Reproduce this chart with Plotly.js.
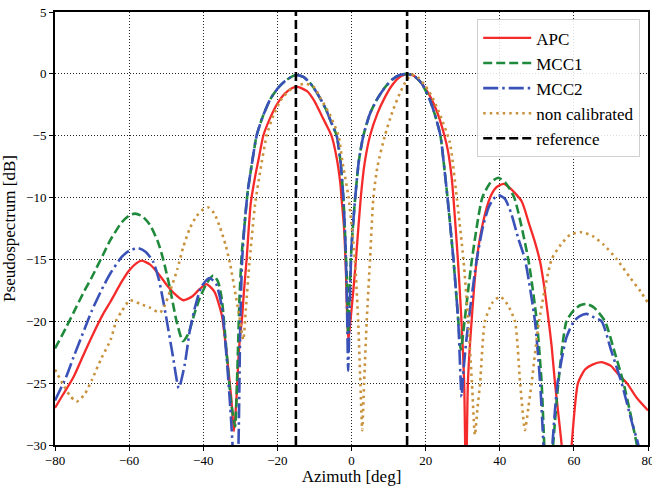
<!DOCTYPE html>
<html>
<head>
<meta charset="utf-8">
<script src="https://cdn.plot.ly/plotly-3.0.1.min.js"></script>
<style>html,body{margin:0;padding:0;background:#fff;}#chart{width:652px;height:486px;}</style>
</head>
<body>
<div id="chart"></div>
<script>
// ---- Data ----
const apcAz = [-80,-78,-75,-72,-70,-67,-65,-62,-60,-58,-56.6,-54.4,-52,-50,-48,-45.4,-43,-41,-39.1,-37,-35,-33.7,-32.5,-31.7,-31,-30.5,-30,-29.6,-29,-28.3,-27.2,-26,-25,-23.8,-22,-20,-18,-16,-14.5,-12,-10,-8,-6,-5.4,-4,-3,-2.7,-2,-1.5,-0.9,-0.3,0.5,1.2,2.5,3.5,5,7,9,11,13,15.3,17,19,21,23,25,26,27,27.5,28.7,29.5,30.4,30.9,31.4,32.4,33.8,35.5,37.4,39,41,43,45.9,48,49.5,50.9,52,53,54,54.9,56,56.7,58,59.4,61.1,63,65,67.5,70,72,74.3,77,80];
const apc   = [-27.0,-26.0,-24.5,-22.5,-21.2,-19.4,-18.4,-16.8,-15.9,-15.3,-15.1,-15.4,-16.2,-17.0,-17.7,-18.3,-18.0,-17.4,-17.0,-17.6,-19.5,-22.6,-26.0,-28.9,-26.0,-23.0,-21.0,-20.0,-17.5,-15.0,-10.5,-8.3,-6.8,-5.0,-3.6,-2.4,-1.6,-1.15,-1.05,-1.4,-2.2,-3.4,-4.6,-5.0,-6.8,-8.9,-10.0,-12.5,-16.0,-21.6,-20.0,-17.5,-15.0,-10.0,-7.3,-5.0,-3.2,-1.9,-0.9,-0.25,0,-0.2,-0.8,-1.7,-3.0,-4.9,-6.2,-8.3,-10.0,-15.0,-19.0,-25.0,-34.0,-25.0,-20.0,-15.0,-12.0,-10.0,-9.2,-8.9,-9.3,-10.3,-12.2,-13.6,-15.2,-17.2,-19.5,-22.0,-25.0,-28.0,-30.0,-36.0,-30.0,-25.0,-23.9,-23.5,-23.3,-23.6,-24.3,-25.0,-26.2,-27.2];

const mcc1Az = [-80,-77,-75,-72,-70,-67,-65,-62,-60,-58.4,-56.5,-54.4,-52.2,-50.8,-49,-47.2,-45.5,-44,-42.5,-40.9,-39,-37.3,-36,-35,-33.7,-32.5,-31.4,-30.8,-30.2,-29.6,-28.8,-28,-27,-25.6,-24,-22,-20,-18,-16,-14.8,-13,-11,-9,-7,-5.5,-4,-3,-2.2,-1.6,-1.2,-0.9,-0.5,0,1,2,3.2,5,7,9,11,13,15,17,19,21,22.5,24,25,25.9,27.5,28.7,29.5,30.5,32.5,35.3,37.5,39.6,41.5,43.9,47.7,50,51.3,52,53,54.4,55.8,58,60,61.7,63.4,65.5,68.4,71,73.4,75.5,77,78.5,80];
const mcc1  = [-22.2,-20.5,-19.3,-17.5,-16.4,-14.6,-13.4,-12.0,-11.45,-11.3,-11.5,-12.2,-13.6,-15.0,-17.3,-20.0,-21.6,-21.0,-19.5,-18.1,-16.9,-16.3,-16.8,-18.2,-22.5,-26.5,-28.5,-24.0,-18.0,-14.5,-12.0,-9.5,-7.5,-5.0,-3.5,-2.1,-1.2,-0.6,-0.2,-0.1,-0.25,-0.8,-1.7,-2.8,-3.9,-5.0,-7.0,-10.0,-14.0,-17.0,-21.0,-17.5,-14.0,-10.0,-7.0,-5.0,-3.2,-2.0,-1.1,-0.45,-0.1,0,-0.2,-0.8,-2.0,-3.3,-5.0,-7.5,-10.0,-15.0,-19.5,-22.3,-20.0,-15.0,-10.0,-8.8,-8.4,-8.8,-10.0,-15.0,-20.0,-25.0,-30.0,-36.0,-30.0,-25.0,-20.0,-19.1,-18.7,-18.6,-18.9,-20.0,-22.5,-25.0,-27.8,-30.0,-33.0,-36.0];

const mcc2Az = [-80,-77,-75,-72,-70,-67,-65,-62,-60,-57.5,-55.5,-53.5,-52,-50.1,-48.2,-46.6,-45,-43.6,-42,-40.5,-38.3,-36.5,-35,-33.7,-32.7,-32.1,-31.3,-30.5,-30,-29.5,-28.8,-28,-27,-25.6,-24,-22,-20,-18,-16,-14.8,-13,-11,-9,-7,-5.5,-4,-3,-2.2,-1.6,-1.2,-0.9,-0.5,0,1,2,3.2,5,7,9,11,13,15,17,19,21,22.5,24,25,25.9,27.5,28.8,29.7,30.2,31,32,33.8,35.5,37,38.3,39.6,41.4,43,45,46.8,49.5,50.9,51.8,53,54.2,55.6,58,60,61.5,63.4,65.5,67.5,70,72.9,75.5,77.4,79,80];
const mcc2  = [-26.4,-24.5,-22.9,-20.6,-19.1,-17.2,-16.1,-14.8,-14.3,-14.1,-14.4,-15.2,-16.6,-19.5,-22.8,-25.4,-23.5,-20.7,-18.6,-17.2,-16.5,-17.0,-18.8,-22.9,-27.0,-30.0,-36.0,-30.0,-20.0,-15.0,-12.0,-9.5,-7.5,-5.0,-3.5,-2.1,-1.2,-0.6,-0.2,-0.1,-0.25,-0.8,-1.7,-2.8,-3.9,-5.0,-7.0,-10.0,-14.0,-19.0,-24.0,-19.0,-14.0,-10.0,-7.0,-5.0,-3.2,-2.0,-1.1,-0.45,-0.1,0,-0.2,-0.8,-2.0,-3.3,-5.0,-7.5,-10.0,-15.0,-20.0,-26.1,-24.0,-21.5,-19.0,-15.0,-12.3,-10.8,-10.1,-9.8,-10.1,-11.2,-13.3,-15.0,-20.0,-25.0,-30.0,-36.0,-30.0,-25.0,-21.3,-20.0,-19.6,-19.4,-19.7,-20.0,-22.3,-25.0,-28.0,-30.0,-33.0,-35.0];

const nonCalAz = [-80,-78,-76,-74.2,-72,-70,-67.5,-65,-63.4,-62,-59.8,-57,-54.4,-51.7,-50.5,-49,-47,-45.4,-43.5,-41.8,-40,-38.6,-37,-35.5,-34,-32.8,-31.3,-30.1,-29.2,-28.5,-27.6,-26,-24.7,-22.9,-21,-19,-17,-15,-12.5,-10,-8.5,-6,-3.5,-2.5,-0.8,0.9,1.8,2.4,2.9,3.4,4.1,5,5.9,7,9,11,13,14.5,16.2,18,20,22,24,26.5,28.4,30.2,31.5,32.5,33.3,34,34.7,36,38,40.1,42,44.1,45.5,46.8,47.7,48.6,50.6,54,56.5,59,62.1,65,68,71.6,75,78,80];
const nonCal   = [-23.9,-25.0,-26.0,-26.5,-25.9,-24.7,-23.0,-21.5,-19.9,-19.2,-18.3,-18.6,-18.9,-19.3,-18.8,-17.6,-15.8,-14.0,-12.4,-11.5,-10.95,-10.8,-11.3,-12.4,-13.8,-15.3,-17.8,-19.9,-21.5,-19.0,-15.5,-10.5,-8.0,-5.0,-3.3,-2.1,-1.4,-1.0,-0.8,-1.1,-1.9,-3.2,-5.0,-7.0,-10.0,-15.0,-20.0,-25.0,-28.8,-25.0,-20.0,-15.0,-10.0,-7.5,-5.0,-3.1,-1.6,-0.7,-0.05,-0.3,-1.0,-2.0,-3.4,-5.5,-10.0,-15.0,-20.0,-25.0,-29.2,-27.0,-25.0,-20.0,-18.5,-18.0,-18.6,-20.0,-25.0,-28.8,-27.0,-25.0,-20.0,-15.0,-13.8,-13.0,-12.8,-13.1,-13.8,-15.0,-16.4,-17.6,-18.5];

const refAz = [-15, 15];
const yRange = [-30, 5];
const xRange = [-80, 80];
const seriesNames = ['APC', 'MCC1', 'MCC2', 'non calibrated', 'reference'];

// reference lines built from refAz and yRange
const refX = [], refY = [];
refAz.forEach((a, i) => { if (i) { refX.push(null); refY.push(null); } refX.push(a, a); refY.push(yRange[0], yRange[1]); });

const serif = '"Liberation Serif", "DejaVu Serif", serif';
const mk = (x, y, name, color, dash, w) => ({
  x, y, name, type: 'scatter', mode: 'lines',
  line: {color, dash, width: w, shape: 'spline', smoothing: 0.6}
});

const data = [
  mk(apcAz, apc, seriesNames[0], '#f52a2a', 'solid', 2.3),
  mk(mcc1Az, mcc1, seriesNames[1], '#1f8a3c', '9px,4px', 2.6),
  mk(mcc2Az, mcc2, seriesNames[2], '#3a52b8', '15px,4px,2.5px,4px', 2.6),
  mk(nonCalAz, nonCal, seriesNames[3], '#c9923c', '2.5px,4px', 2.6),
  {x: refX, y: refY, name: seriesNames[4], type: 'scatter', mode: 'lines',
   line: {color: '#000', dash: '9px,4px', width: 2.6}}
];

const axisCommon = {
  showline: true, linecolor: '#000', linewidth: 2, mirror: true,
  ticks: 'outside', ticklen: 4, tickwidth: 1, tickcolor: '#000',
  showgrid: true, gridcolor: '#222', gridwidth: 1, griddash: '1px,2px',
  zeroline: false,
  tickfont: {family: serif, size: 13, color: '#000'},
  ticklabeloverflow: 'allow',
  automargin: false
};

const layout = {
  width: 652, height: 486,
  margin: {l: 55, r: 4, t: 12, b: 41},
  paper_bgcolor: '#fff', plot_bgcolor: '#fff',
  showlegend: true,
  font: {family: serif, color: '#000'},
  xaxis: Object.assign({}, axisCommon, {
    range: xRange, dtick: 20, tick0: 0, ticklabelstandoff: -2,
    title: {text: 'Azimuth [deg]', font: {family: serif, size: 17, color: '#000'}, standoff: 2}
  }),
  yaxis: Object.assign({}, axisCommon, {
    range: yRange, dtick: 5, tick0: 0,
    title: {text: 'Pseudospectrum [dB]', font: {family: serif, size: 17, color: '#000'}, standoff: 8}
  }),
  legend: {
    x: 0.712, y: 0.983, xanchor: 'left', yanchor: 'top',
    bgcolor: 'rgba(255,255,255,0.85)', bordercolor: '#d0d0d0', borderwidth: 1,
    font: {family: serif, size: 17, color: '#000'},
    itemwidth: 48
  }
};

Plotly.newPlot('chart', data, layout, {displayModeBar: false, staticPlot: true});
</script>
</body>
</html>
